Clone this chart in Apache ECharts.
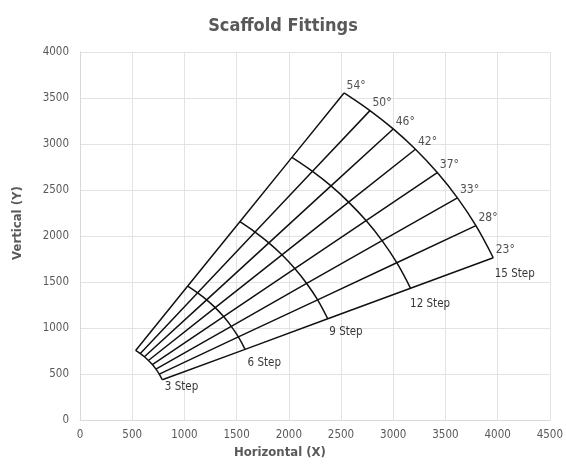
<!DOCTYPE html>
<html>
<head>
<meta charset="utf-8">
<script src="https://cdn.jsdelivr.net/npm/echarts@6/dist/echarts.min.js"></script>
<style>
  html, body { margin: 0; padding: 0; background: #fff; }
  #chart { width: 566px; height: 464px; }
</style>
</head>
<body>
<div id="chart"></div>
<script>
// 角度标签，从上到下
var angles = ['54\u00b0', '50\u00b0', '46\u00b0', '42\u00b0', '37\u00b0', '33\u00b0', '28\u00b0', '23\u00b0'];
var steps = ['3 Step', '6 Step', '9 Step', '12 Step', '15 Step'];
var xTicks = [0, 500, 1000, 1500, 2000, 2500, 3000, 3500, 4000, 4500];
var yTicks = [0, 500, 1000, 1500, 2000, 2500, 3000, 3500, 4000];

// 每个角度在 3/6/9/12/15 步处的坐标
var xs = [
    [533, 1032, 1531, 2030, 2529],
    [578, 1127, 1677, 2227, 2777],
    [617, 1213, 1809, 2404, 3000],
    [655, 1295, 1934, 2573, 3213],
    [693, 1375, 2057, 2740, 3422],
    [727, 1449, 2171, 2893, 3615],
    [759, 1517, 2276, 3034, 3792],
    [788, 1581, 2373, 3166, 3958]
];
var ys = [
    [757, 1457, 2156, 2855, 3555],
    [723, 1383, 2043, 2703, 3363],
    [688, 1307, 1926, 2545, 3164],
    [648, 1222, 1796, 2369, 2943],
    [603, 1125, 1647, 2168, 2690],
    [554, 1019, 1485, 1950, 2415],
    [500, 904, 1307, 1710, 2113],
    [438, 769, 1101, 1432, 1764]
];

// 步数标签的偏移（像素）
var stepLabelOffsets = [[3, 8], [3, 14], [2, 14], [0, 16], [2, 17]];

var FONT = '"DejaVu Sans Condensed", "DejaVu Sans", sans-serif';
var LINE = '#111';

var series = [];

// 角度线
for (var i = 0; i < angles.length; i++) {
    var pts = [];
    for (var j = 0; j < steps.length; j++) {
        pts.push([xs[i][j], ys[i][j]]);
    }
    series.push({
        type: 'line',
        data: pts,
        symbol: 'none',
        lineStyle: { color: LINE, width: 1.5 },
        silent: true
    });
}

// 步数弧线
for (var j = 0; j < steps.length; j++) {
    var arc = [];
    for (var i = 0; i < angles.length; i++) {
        arc.push([xs[i][j], ys[i][j]]);
    }
    series.push({
        type: 'line',
        data: arc,
        symbol: 'none',
        smooth: 0.4,
        lineStyle: { color: LINE, width: 1.5 },
        silent: true
    });
}

// 角度文字
var angleLabelData = [];
for (var i = 0; i < angles.length; i++) {
    angleLabelData.push({ value: [xs[i][4], ys[i][4]], name: angles[i] });
}
series.push({
    type: 'scatter',
    data: angleLabelData,
    symbolSize: 1,
    itemStyle: { color: 'rgba(0,0,0,0)' },
    silent: true,
    label: {
        show: true,
        formatter: '{b}',
        position: [3, -7],
        verticalAlign: 'middle',
        align: 'left',
        color: '#262626',
        fontFamily: FONT,
        fontSize: 12
    }
});

// 步数文字
var stepLabelData = [];
var last = angles.length - 1;
for (var j = 0; j < steps.length; j++) {
    stepLabelData.push({
        value: [xs[last][j], ys[last][j]],
        name: steps[j],
        label: { position: stepLabelOffsets[j] }
    });
}
series.push({
    type: 'scatter',
    data: stepLabelData,
    symbolSize: 1,
    itemStyle: { color: 'rgba(0,0,0,0)' },
    silent: true,
    label: {
        show: true,
        formatter: '{b}',
        verticalAlign: 'middle',
        align: 'left',
        color: '#000',
        fontFamily: FONT,
        fontSize: 11.5
    }
});

function plain(v) { return String(v); }

var chart = echarts.init(document.getElementById('chart'));
chart.setOption({
    animation: false,
    backgroundColor: '#fff',
    textStyle: { fontFamily: FONT },
    title: {
        text: 'Scaffold Fittings',
        left: 'center',
        top: 12,
        textStyle: { fontFamily: FONT, fontSize: 18, fontWeight: 'bold', color: '#595959' }
    },
    grid: { left: 80, right: 13, top: 52, bottom: 42 },
    xAxis: {
        type: 'value',
        min: xTicks[0],
        max: xTicks[xTicks.length - 1],
        interval: 500,
        name: 'Horizontal (X)',
        nameLocation: 'middle',
        nameGap: 24,
        nameTextStyle: { fontFamily: FONT, fontSize: 13, fontWeight: 'bold', color: '#595959', padding: [0, 70, 0, 0] },
        axisLine: { show: true, lineStyle: { color: '#d9d9d9' } },
        axisTick: { show: false },
        axisLabel: { color: '#595959', fontSize: 11.5, fontFamily: FONT, margin: 9, formatter: plain },
        splitLine: { show: true, lineStyle: { color: '#e3e3e3' } }
    },
    yAxis: {
        type: 'value',
        min: yTicks[0],
        max: yTicks[yTicks.length - 1],
        interval: 500,
        name: 'Vertical (Y)',
        nameLocation: 'middle',
        nameGap: 56,
        nameTextStyle: { fontFamily: FONT, fontSize: 13, fontWeight: 'bold', color: '#595959', padding: [0, 0, 0, 26] },
        axisLine: { show: true, lineStyle: { color: '#d9d9d9' } },
        axisTick: { show: false },
        axisLabel: { color: '#595959', fontSize: 11.5, fontFamily: FONT, margin: 11, formatter: plain },
        splitLine: { show: true, lineStyle: { color: '#e3e3e3' } }
    },
    series: series
});
</script>
</body>
</html>
